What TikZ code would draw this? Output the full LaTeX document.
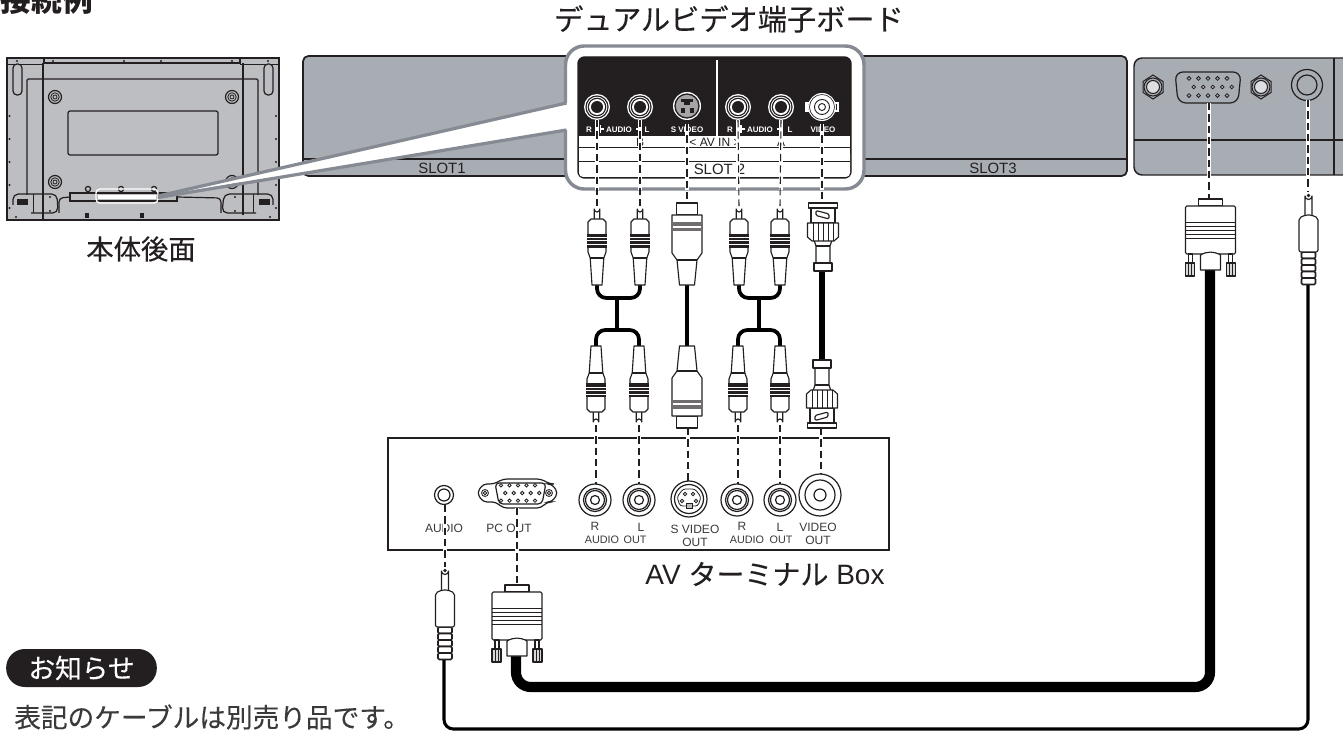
\documentclass[tikz,border=0pt]{standalone}
\usepackage{fontspec}
\setmainfont{Liberation Sans}
\newfontfamily\jpf[FakeBold=0.25]{Noto Sans CJK JP}
\newfontfamily\jpbold{Noto Sans CJK JP}
\newcommand{\fsz}[1]{\fontsize{#1}{#1}\selectfont}
\definecolor{slotgray}{HTML}{A8ADB3}
\definecolor{backgray}{HTML}{BCBEC1}
\definecolor{beamgray}{HTML}{868A92}
\definecolor{ink}{HTML}{231F20}
\definecolor{softink}{HTML}{3A3A3A}
\tikzset{
  x=0.75pt,y=-0.75pt,
  thinline/.style={draw=ink,line width=0.6pt},
  med/.style={draw=ink,line width=0.9pt},
  plugpart/.style={draw=ink,fill=white,line width=0.85pt,line join=round},
  hint/.style={draw=ink,line width=0.8pt,dash pattern=on 5.5pt off 3pt},
  casing/.style={draw=white,line width=2.6pt},
  cablethin/.style={draw=black,line width=2.3pt,line join=round},
  cablemid/.style={draw=black,line width=2.8pt,rounded corners=7pt},
  cablebig/.style={draw=black,line width=7.6pt,rounded corners=11pt},
  sloptxt/.style={font=\fsz{11.2},text=ink,inner sep=0pt},
  boxlabel/.style={font=\fsz{9},text=softink,inner sep=0pt},
  boxnarrow/.style={font=\fsz{8.1},text=softink,inner sep=0pt},
  paneltxt/.style={font=\bfseries\fsz{6},text=white,inner sep=0pt},
  striptxt/.style={font=\fsz{9},text=ink,inner sep=0pt},
  jptitle/.style={font=\jpf\fsz{21.9},text=ink,inner sep=0pt},
}
% plugs: #1 centre x, #2 tip y, #3 direction (1 = tip on top, -1 = tip below)
\newcommand{\plugrca}[3]{\begin{scope}[shift={(#1,#2)},yscale=#3]
  \draw[plugpart] (-2.8,13) -- (-2.8,3) arc[start angle=180,end angle=0,x radius=2.8,y radius=3] -- (2.8,13);
  \draw[plugpart] (-6,13) -- (6,13) -- (9,16) -- (9,46) -- (6.8,52) -- (5,79) -- (-5,79) -- (-6.8,52) -- (-9,46) -- (-9,16) -- cycle;
  \draw[plugpart] (-6.8,52) -- (6.8,52);
  \fill[ink] (-10,28) rectangle (10,42);
  \foreach \yy in {31,34.5,38}{\draw[white,line width=0.5pt] (-10,\yy) -- (10,\yy);}
\end{scope}}
\newcommand{\plugsvid}[3]{\begin{scope}[shift={(#1,#2)},yscale=#3]
  \draw[plugpart] (-10.5,0) rectangle (10.5,12);
  \draw[plugpart] (-15,12) -- (15,12) -- (15,50) -- (10,57) -- (7.5,82) -- (-7.5,82) -- (-10,57) -- (-15,50) -- cycle;
  \draw[plugpart] (-10,57) -- (10,57);
  \fill[ink!65] (-16,19) rectangle (16,23);
  \fill[ink!65] (-16,25.5) rectangle (16,28.5);
\end{scope}}
\newcommand{\plugbnc}[3]{\begin{scope}[shift={(#1,#2)},yscale=#3]
  \draw[plugpart] (-12,5) rectangle (12,20);
  \draw[plugpart] (-14.5,0) rectangle (14.5,5);
  \draw[plugpart,rounded corners=1pt] (-7,7.5) -- (6,11) -- (6,16) -- (-7,12.5) -- cycle;
  \draw[plugpart] (-9,37) -- (-7,43) -- (-7,60) -- (7,60) -- (7,43) -- (9,37);
  \draw[plugpart] (-7,43) -- (7,43);
  \draw[plugpart] (-15.5,20) -- (15.5,20) -- (15.5,34) -- (11,38) -- (-11,38) -- (-15.5,34) -- cycle;
  \foreach \xx in {-10,-5,0,5,10}{\draw[thinline] (\xx,20) -- (\xx,38);}
  \draw[plugpart,fill=white] (-9,60) rectangle (9,68);
\end{scope}}
\newcommand{\plugvga}[2]{\begin{scope}[shift={(#1,#2)}]
  \draw[plugpart] (-12,0) rectangle (12,7);
  \draw[plugpart,rounded corners=1pt] (-25,7) rectangle (25,55);
  \foreach \yy in {23,27,31,35,39}{\draw[thinline] (-25,\yy) -- (25,\yy);}
  \foreach \ss in {-1,1}{\begin{scope}[xscale=\ss]
    \draw[plugpart] (-22,55) rectangle (-18,64);
    \draw[plugpart,fill=backgray!60] (-25,64) rectangle (-16,77);
    \draw[thinline] (-22,64) -- (-22,77) (-19,64) -- (-19,77);
  \end{scope}}
  \draw[plugpart] (-10,56) to[out=30,in=150] (10,56) -- (10,71) -- (-10,71) -- cycle;
\end{scope}}
\newcommand{\plugmini}[2]{\begin{scope}[shift={(#1,#2)}]
  \foreach \yy in {60,66.5,73,79.5,86}{\draw[plugpart,line width=1.2pt,rounded corners=1pt] (-7,\yy) rectangle (7,\yy+6.5);}
  \draw[plugpart] (-3.5,24) -- (-3.5,4) arc[start angle=180,end angle=0,radius=3.5] -- (3.5,24);
  \fill[ink] (0,3.5) circle[radius=1.8];
  \draw[plugpart,rounded corners=1.5pt] (-9.5,60) -- (-9.5,26) -- (-3,23) -- (3,23) -- (9.5,26) -- (9.5,60) -- cycle;
\end{scope}}
% jacks
\newcommand{\jackpanel}[2]{\begin{scope}[shift={(#1,#2)}]
  \fill[white] (0,0) circle[radius=13];
  \fill[ink] (0,0) circle[radius=11.6];
  \fill[white] (0,0) circle[radius=10.3];
  \fill[ink] (0,0) circle[radius=9.3];
  \fill[white] (0,0) circle[radius=8];
  \fill[ink] (0,0) circle[radius=6];
\end{scope}}
\newcommand{\jackbox}[3]{\begin{scope}[shift={(#1,#2)},scale=#3]
  \draw[med] (0,0) circle[radius=16];
  \draw[med] (0,0) circle[radius=11.5];
  \draw[med] (0,0) circle[radius=9.5];
  \draw[med] (0,0) circle[radius=4.5];
\end{scope}}
\newcommand{\hexnut}[2]{\begin{scope}[shift={(#1,#2)}]
  \draw[thinline,line width=0.75pt,fill=slotgray] (-10,-5.5) -- (0,-12) -- (10,-5.5) -- (10,5.5) -- (0,12) -- (-10,5.5) -- cycle;
  \draw[thinline,line width=0.75pt] (0,0) circle[radius=9];
  \draw[thinline,line width=0.75pt,fill=slotgray!40] (0,0) circle[radius=6.5];
\end{scope}}
\newcommand{\vgapins}[3]{\begin{scope}[shift={(#1,#2)},scale=#3]
  \foreach \xx in {-20,-10,0,10,20}{
    \draw[ink,line width=0.6pt] (\xx,-9) circle[radius=2];
    \draw[ink,line width=0.6pt] (\xx,9) circle[radius=2];
    \draw[ink,line width=0.6pt] (\xx+5,0) circle[radius=2];}
\end{scope}}
\newcommand{\link}[2]{\draw[hint] (#1) -- (#2);}
\newcommand{\caselink}[2]{\draw[casing] (#1) -- (#2);}
\begin{document}
\begin{tikzpicture}
\useasboundingbox (0,0) rectangle (1343,731);
\fill[white] (0,0) rectangle (1343,731);

%%% anchor coordinates
\foreach \nm/\xx/\yy in {jA/597/120,jB/640/120,jC/687/124,jD/738/120,jE/781/120,jF/822/124,
  cA/597/190,cB/640/190,cC/687/190,cD/738/190,cE/781/190,cF/822/190,
  pA/597/206,pB/640/206,pC/687/203,pD/739/206,pE/780/206,pF/822/203,
  qA/596/425,qB/639/425,qC/688/428,qD/738/425,qE/780/425,qF/821/428,
  tA/596/484,tB/639/484,tC/688/481,tD/738/484,tE/780/484,tF/821/474,
  jAud/445/505,jPc/517/508,pAud/445/567,pPc/517/585,
  jVga/1209/103,jMin/1308/100,eVga/1209/176,eMin/1308/176,pVga/1209/199,pMin/1308/192,
  eAud/445/553,ePc/517/553,gapT/0/434,gapB/0/442}{\coordinate (\nm) at (\xx,\yy);}

%%% rear view of the display
\draw[draw=ink,line width=1.1pt,fill=backgray] (7,58) rectangle (279,220);
\draw[med] (44,58) -- (44,63) -- (240,63) -- (240,58);
\draw[med] (43,63) -- (43,220);
\draw[med] (243,63) -- (243,215);
\draw[med,rounded corners=1pt] (27,195) -- (27,79) -- (258,79) -- (258,195);
\draw[thinline] (7,64) -- (44,64) (240,64) -- (279,64);
\draw[med,fill=backgray,rounded corners=3pt] (13,64) rectangle (22,95);
\draw[med,fill=backgray,rounded corners=3pt] (264,64) rectangle (273,95);
\foreach \xx/\yy in {55/97,232/97,55/182,232/182}{
  \draw[med] (\xx,\yy) circle[radius=6.5];
  \draw[thinline] (\xx,\yy) circle[radius=4.2];
  \draw[thinline] (\xx,\yy) circle[radius=2];}
\draw[med,rounded corners=1.5pt] (68,111) rectangle (218,155);
\draw[med,rounded corners=4pt] (13,205) -- (13,194) -- (57,194) -- (58,213) -- (31,213);
\draw[med,rounded corners=4pt] (273,205) -- (273,194) -- (224,194) -- (222,213) -- (256,213);
\draw[thinline] (33,194) -- (33,213) (253,194) -- (253,213);
\draw[med,rounded corners=3pt] (59,213) -- (59,198) -- (70,197);
\draw[med,rounded corners=3pt] (221,213) -- (221,198) -- (177,197);
\draw[med,fill=backgray] (70,193) rectangle (177,201);
\foreach \xx in {88,121,154}{\draw[med,fill=backgray] (\xx,189) circle[radius=2.6];}
\fill[ink] (17,199) rectangle (28,205);
\fill[ink] (259,199) rectangle (270,205);
\fill[ink] (85,213) rectangle (89,218);
\fill[ink] (140,213) rectangle (144,218);
\foreach \xx/\yy in {17/61,53/61,124/61,161/61,232/61,268/61,9.5/116,9.5/139,9.5/162,9.5/185,9.5/208,276/116,276/139,276/162,276/185,276/208,16/217,270/217,50/197,235/197,50/211,235/211}{
  \fill[ink] (\xx,\yy) circle[radius=1.1];}
\fill[white] (98,195) rectangle (156,199.5);
\draw[white,line width=1pt,rounded corners=3pt] (96,189) rectangle (158,203);

%%% slot panel
\draw[draw=ink,line width=1.3pt,fill=slotgray,rounded corners=4pt] (303,56) rectangle (1127,176);
\draw[ink,line width=0.8pt] (303,159) -- (1127,159);
\node[sloptxt] (slotone) at (442,168) {SLOT1};
\node[sloptxt] (slotthree) at (993,168) {SLOT3};

%%% right-hand terminal panel
\draw[draw=ink,line width=1.1pt,fill=slotgray,rounded corners=6pt] (1345,58) -- (1134,58) -- (1134,175) -- (1345,175);
\draw[ink,line width=0.8pt] (1134,140) -- (1345,140);
\draw[ink,line width=1.1pt] (1334,58) -- (1334,175);
\hexnut{1153}{87}\hexnut{1261}{87}
\draw[med,rounded corners=6pt] (1175,72) -- (1241,72) -- (1238,103) -- (1178,103) -- cycle;
\vgapins{1208}{87}{0.95}
\draw[med] (1307,85) circle[radius=15.5];
\draw[med] (1307,85) circle[radius=10];

%%% callout
\draw[draw=beamgray,line width=2.6pt,fill=white,rounded corners=14pt] (565.5,46) rectangle (864,189);
\fill[white] (150,197) -- (566,103) -- (570,103) -- (570,130) -- (566,130) -- cycle;
\draw[beamgray,line width=2.4pt] (158,196) -- (566.5,103);
\draw[beamgray,line width=2.4pt] (158,197.5) -- (566.5,130);
\draw[draw=ink,line width=1.1pt,fill=ink,rounded corners=5pt] (578,57) rectangle (851,178);
\fill[white] (579,136) rectangle (850,172);
\fill[white,rounded corners=3pt] (579,150) rectangle (850,177);
\draw[ink,line width=0.6pt] (579,147) -- (850,147);
\draw[ink,line width=0.6pt] (579,161) -- (850,161);
\draw[white,line width=1.4pt] (717,60) -- (717,136);
\jackpanel{597}{107}\jackpanel{640}{107}\jackpanel{738}{107}\jackpanel{781}{107}
\begin{scope}[shift={(687,106)}]
  \fill[white] (0,0) circle[radius=14];
  \fill[ink] (0,0) circle[radius=12.7];
  \fill[ink!40] (0,0) circle[radius=11.2];
  \fill[ink] (-6,-7) rectangle (6,-4);
  \fill[ink] (-3,-4) rectangle (3,-1);
  \fill[ink] (-6.5,2) rectangle (-2.5,7);
  \fill[ink] (2.5,2) rectangle (6.5,7);
\end{scope}
\begin{scope}[shift={(822,107)}]
  \fill[white] (-17,-5) rectangle (17,5);
  \fill[ink] (-14.5,-3) rectangle (-12.5,3);
  \fill[ink] (12.5,-3) rectangle (14.5,3);
  \fill[white] (0,0) circle[radius=14];
  \draw[ink,line width=0.5pt] (0,0) circle[radius=12.5];
  \draw[ink,line width=0.7pt] (0,0) circle[radius=7.5];
  \draw[ink,line width=0.7pt] (0,0) circle[radius=3.5];
\end{scope}
\node[paneltxt] (prl) at (589,130) {R};
\node[paneltxt] (pau) at (619,130) {AUDIO};
\node[paneltxt] (pll) at (647,130) {L};
\node[paneltxt] (psv) at (687,130) {S VIDEO};
\node[paneltxt] (prr) at (730,130) {R};
\node[paneltxt] (paur) at (760,130) {AUDIO};
\node[paneltxt] (plr) at (790,130) {L};
\node[paneltxt] (pvi) at (823,130) {VIDEO};
\draw[white,line width=0.8pt] (600.5,125) -- (600.5,133) (600.5,129) -- (604,129);
\draw[white,line width=0.8pt] (640,125) -- (640,133) (640,129) -- (636,129);
\draw[white,line width=0.8pt] (741,125) -- (741,133) (741,129) -- (744.5,129);
\draw[white,line width=0.8pt] (781,125) -- (781,133) (781,129) -- (777,129);
\node[striptxt] (sb) at (640,142) {B};
\node[striptxt] (sav) at (715,142) {< AV IN >};
\node[striptxt] (sa) at (781,142) {A};
\node[sloptxt] (slottwo) at (719.5,169.5) {SLOT 2};

%%% AV terminal box
\draw[draw=ink,line width=2.1pt,fill=white] (388,438) rectangle (889,550);
\draw[med] (444,495) circle[radius=9.5];
\draw[med] (444,495) circle[radius=6];
\draw[med,rounded corners=3pt] (477,493) -- (483,484) -- (494,484) -- (503,479) -- (541,479) -- (550,484) -- (552,484) -- (558,493) -- (552,502) -- (547,502) -- (541,508) -- (503,508) -- (496,502) -- (483,502) -- cycle;
\draw[med,rounded corners=3pt] (495,483) -- (546,483) -- (542,504) -- (499,504) -- cycle;
\vgapins{518}{493}{0.85}
\draw[thinline] (485,493) circle[radius=3.5] (485,493) circle[radius=1.8];
\draw[thinline] (549,493) circle[radius=3.5] (549,493) circle[radius=1.8];
\jackbox{595}{500}{1}\jackbox{639}{500}{1}\jackbox{737}{500}{1}\jackbox{780}{500}{1}
\begin{scope}[shift={(689,499)}]
  \draw[med] (0,0) circle[radius=18];
  \draw[med] (0,0) circle[radius=14.5];
  \draw[thinline,rounded corners=2pt] (-6,-10) -- (6,-10) -- (12,-2) -- (9,7) -- (-9,7) -- (-12,-2) -- cycle;
  \foreach \xx/\yy in {-4/-5,4/-5,-7/2,7/2}{\draw[thinline] (\xx,\yy) circle[radius=1.7];}
  \draw[thinline,fill=ink!30] (-3,4) rectangle (3,9);
\end{scope}
\draw[med] (820,495) circle[radius=21];
\draw[med] (820,495) circle[radius=15];
\draw[med] (820,495) circle[radius=6];
\node[boxlabel] (bl1) at (444,528) {AUDIO};
\node[boxlabel] (bl2) at (509,528) {PC OUT};
\node[boxlabel] (bl3) at (595,526) {R};
\node[boxnarrow] (bl4) at (602,540) {AUDIO};
\node[boxlabel] (bl5) at (641,527) {L};
\node[boxnarrow] (bl6) at (635,540) {OUT};
\node[boxlabel] (bl7) at (695,529) {S VIDEO};
\node[boxlabel] (bl8) at (695,542) {OUT};
\node[boxlabel] (bl9) at (742,526) {R};
\node[boxnarrow] (bl10) at (747,540) {AUDIO};
\node[boxlabel] (bl11) at (780,527) {L};
\node[boxnarrow] (bl12) at (781,540) {OUT};
\node[boxlabel] (bl13) at (818,527) {VIDEO};
\node[boxlabel] (bl14) at (818,540) {OUT};

%%% dashed guides
\foreach \aa/\bb in {jA/cA,jB/cB,jC/cC,jD/cD,jE/cE,jF/cF,jVga/eVga,jMin/eMin,jAud/eAud,jPc/ePc}{\caselink{\aa}{\bb}}
\foreach \aa/\bb in {qA/tA,qB/tB,qC/tC,qD/tD,qE/tE,qF/tF}{
  \draw[white,line width=2.6pt] (\aa |- gapT) -- (\aa |- gapB);
  \link{\aa}{\bb}}
\foreach \aa/\bb in {jA/pA,jB/pB,jC/pC,jD/pD,jE/pE,jF/pF,jAud/pAud,jPc/pPc,jVga/pVga,jMin/pMin}{\link{\aa}{\bb}}

%%% cables
\draw[cablemid] (597,285) -- (597,298) -- (640,298) -- (640,285);
\draw[cablemid] (596,346) -- (596,330) -- (639,330) -- (639,346);
\draw[cablemid] (617,298) -- (617,330);
\draw[cablemid] (739,285) -- (739,298) -- (780,298) -- (780,285);
\draw[cablemid] (738,346) -- (738,330) -- (780,330) -- (780,346);
\draw[cablemid] (759,298) -- (759,330);
\draw[cablemid] (687,285) -- (687,346);
\draw[black,line width=5.2pt] (822,271) -- (822,360);
\draw[cablebig] (1210,270) -- (1210,687) -- (516,687) -- (516,655);
\draw[cablethin,rounded corners=7pt] (1308,283) -- (1308,729) -- (444,729) -- (444,658);

%%% plugs
\plugrca{597}{206}{1}\plugrca{640}{206}{1}\plugrca{739}{206}{1}\plugrca{780}{206}{1}
\plugrca{596}{425}{-1}\plugrca{639}{425}{-1}\plugrca{738}{425}{-1}\plugrca{780}{425}{-1}
\plugsvid{687}{203}{1}\plugsvid{687}{428}{-1}
\plugbnc{823}{203}{1}\plugbnc{822}{428}{-1}
\plugvga{1210.5}{199}\plugvga{517}{585}
\plugmini{1308.5}{192}\plugmini{445}{567}

%%% Japanese captions
\node[jptitle,font=\jpbold\bfseries\fsz{23}] (kn) at (47,0) {接続例};
\node[jptitle] (title) at (729,19) {デュアルビデオ端子ボード};
\node[jptitle,font=\jpf\fsz{20.5}] (rear) at (141,249) {本体後面};
\node[inner sep=0pt,text=ink,font=\fsz{21}] (boxname) at (765,574) {AV {\jpf ターミナル} Box};
\node[fill=ink,rounded corners=14pt,minimum width=113pt,minimum height=28.5pt,inner sep=0pt,text=white,font=\jpf\fsz{20}] (notice) at (81.5,668) {お知らせ};
\node[anchor=west,inner sep=0pt,text=softink,font=\jpf\fsz{20}] (note) at (14,717) {表記のケーブルは別売り品です。};
\end{tikzpicture}
\end{document}
